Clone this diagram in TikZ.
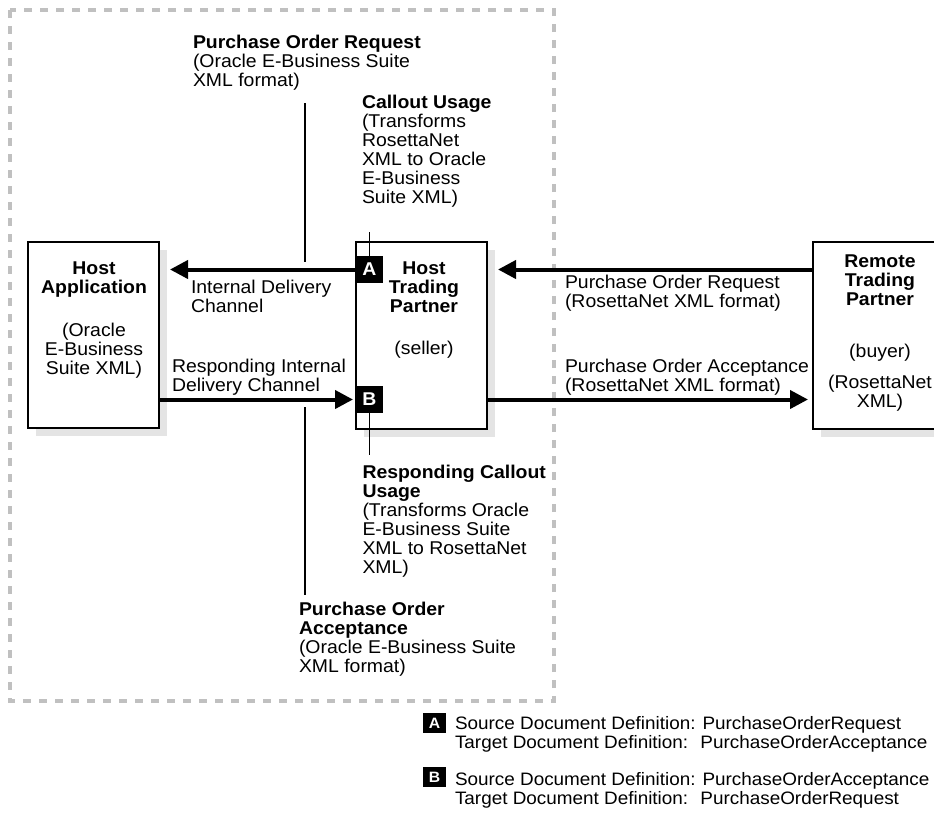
\documentclass[tikz,border=0pt]{standalone}
\usepackage{fontspec}
\setmainfont{Liberation Sans}[FakeStretch=1.05]
\usetikzlibrary{arrows.meta,shadows}
\definecolor{dashgray}{HTML}{C0C0C0}
\definecolor{shadowgray}{HTML}{E4E4E4}
\begin{document}
\begin{tikzpicture}[x=1pt,y=-1pt,
  every node/.style={inner sep=0pt, outer sep=0pt},
  fnt/.style={font=\fontsize{18.5}{19}\selectfont},
  txt/.style={fnt, align=left, anchor=north west},
  ltxt/.style={font=\fontsize{18}{19}\selectfont, align=left, anchor=north west},
  ctxt/.style={fnt, align=center, anchor=north},
  ctxtb/.style={font=\fontsize{18.5}{19}\selectfont\bfseries, align=center, anchor=north},
  box/.style={draw, line width=2pt, fill=white, anchor=north west,
    drop shadow={shadow xshift=8pt, shadow yshift=-8pt, fill=shadowgray, opacity=1}},
  badge/.style={fill=black, text=white, minimum size=27pt, anchor=center,
    font=\fontsize{18.5}{19}\selectfont\bfseries},
  lbadge/.style={fill=black, text=white, minimum width=23pt, minimum height=20pt, anchor=center,
    font=\fontsize{15}{15}\selectfont\bfseries},
  arr/.style={line width=4pt, -{Triangle[length=18pt,width=18pt]}},
  callline/.style={line width=1.2pt},
  border/.style={draw=dashgray, line width=3.5pt, dash pattern=on 8pt off 8pt}
]
\useasboundingbox (0,0) rectangle (934,817);

% dashed enterprise border
\draw[border] (10,10) rectangle (554,701);

% boxes
\node[box, minimum width=131pt, minimum height=186pt] (happ) at (28,242) {};
\node[box, minimum width=131pt, minimum height=187pt] (htp) at (356,242) {};
\node[box, minimum width=134pt, minimum height=187pt] (rtp) at (813,242) {};

% box texts
\node[ctxtb] (happt) at (94,261.7) {Host\\Application};
\node[ctxt] (happs) at (94,323.2) {(Oracle\\E-Business\\Suite XML)};
\node[ctxtb] (htpt) at (424,261.7) {Host\\Trading\\Partner};
\node[ctxt] (htps) at (424,340.7) {(seller)};
\node[ctxtb] (rtpt) at (880,254.7) {Remote\\Trading\\Partner};
\node[ctxt] (rtps) at (880,343.7) {(buyer)};
\node[ctxt] (rtpf) at (880,374.7) {(RosettaNet\\XML)};

% badges
\node[badge] (ba) at (369.5,269.5) {A};
\node[badge] (bb) at (369.5,399.5) {B};

% arrows
\draw[arr] (ba.west) -- ([xshift=11pt]happ.east |- ba.west);
\draw[arr, shorten >=3pt] (happ.east |- bb.west) -- (bb.west);
\draw[arr] (rtp.west |- ba.center) -- ([xshift=11pt]htp.east |- ba.center);
\draw[arr, shorten >=5pt] (htp.east |- bb.center) -- (rtp.west |- bb.center);

% arrow labels
\node[txt] (idc) at (191,279.7) {Internal Delivery\\Channel};
\node[txt] (ridc) at (172,358.7) {Responding Internal\\Delivery Channel};
\node[txt] (porr) at (565,275.2) {Purchase Order Request\\(RosettaNet XML format)};
\node[txt] (poar) at (565,358.7) {Purchase Order Acceptance\\(RosettaNet XML format)};

% callout texts
\node[txt] (porq) at (193,35.2) {\textbf{Purchase Order Request}\\(Oracle E-Business Suite\\XML format)};
\node[txt] (cu) at (362,94.7) {\textbf{Callout Usage}\\(Transforms\\RosettaNet\\XML to Oracle\\E-Business\\Suite XML)};
\node[txt] (rcu) at (362.5,464.7) {\textbf{Responding Callout}\\\textbf{Usage}\\(Transforms Oracle\\E-Business Suite\\XML to RosettaNet\\XML)};
\node[txt] (poac) at (299,601.7) {\textbf{Purchase Order}\\\textbf{Acceptance}\\(Oracle E-Business Suite\\XML format)};

% callout lines
\coordinate (prtop) at (305,103);
\coordinate (prbot) at (305,262);
\coordinate (patop) at (305,407);
\coordinate (pabot) at (305,595);
\coordinate (cuend) at (369.5,232);
\coordinate (rcuend) at (369.5,455);
\draw[callline] (prtop) -- (prbot);
\draw[callline] (patop) -- (pabot);
\draw[callline] (ba.north) -- (cuend);
\draw[callline] (bb.south) -- (rcuend);

% legend
\node[lbadge] (la) at (434.5,723) {A};
\node[ltxt] (lat) at (455,716) {Source Document Definition: PurchaseOrderRequest\\Target Document Definition: \ PurchaseOrderAcceptance};
\node[lbadge] (lb) at (434.5,777) {B};
\node[ltxt] (lbt) at (455,772) {Source Document Definition: PurchaseOrderAcceptance\\Target Document Definition: \ PurchaseOrderRequest};
\end{tikzpicture}
\end{document}
